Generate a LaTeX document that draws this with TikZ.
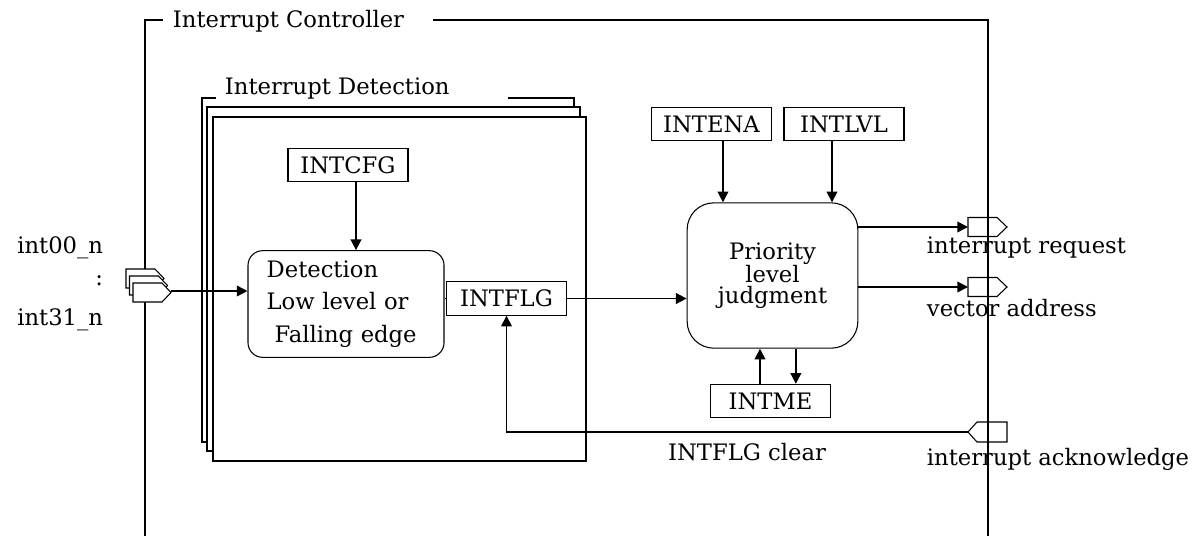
\documentclass[tikz,border=0pt]{standalone}
\usepackage{fontspec}
\setmainfont{DejaVu Serif}
\usetikzlibrary{arrows.meta}

\begin{document}
\begin{tikzpicture}[x=0.75pt,y=0.75pt,yscale=-1,
  font=\fontsize{17}{24.5}\selectfont,
  line width=0.8pt,
  reg/.style={draw, minimum width=90pt, minimum height=25pt, inner sep=2pt},
  blk/.style={draw, rounded corners=11pt},
  sig/.style={line width=1.2pt, -{Triangle[length=8pt,width=8pt]}},
  wire/.style={line width=1.2pt}]
\useasboundingbox (0,0) rectangle (1202,536);

%Frame: Interrupt Controller
\draw (163,20) -- (145,20) -- (145,536);
\draw (433,20) -- (988,20) -- (988,536);
% Text Node
\node (ctl) [anchor=west] at (168,21) {Interrupt Controller};

%Frame: Interrupt Detection (stacked)
\draw (216,98) -- (202,98) -- (202,442) -- (574,442) -- (574,98) -- (508,98);
\draw [fill=white] (207,107) rectangle (580,451);
\draw [fill=white] (213,117) rectangle (586,461);
% Text Node
\node (dtclbl) [anchor=west] at (220,89) {Interrupt Detection};

%Input ports
\foreach \s in {2,1,0}
  \draw [fill=white] (133-3.5*\s,283-7*\s) -- ++(29,0) -- ++(9,9.5) -- ++(-9,9.5) -- ++(-29,0) -- cycle;
\coordinate (in) at (171,291);
% Text Node
\node (i00) [anchor=east] at (108,248) {int00\_n};
\node (idots) [anchor=east] at (108,281) {:};
\node (i31) [anchor=east] at (108,320) {int31\_n};

%Blocks
\node (cfg) [reg] at (348,165) {INTCFG};
\node (dtc) [blk, align=left, text width=119pt, inner xsep=14pt, minimum height=80pt] at (346,304)
  {Detection\\Low level or\\\hspace*{6pt}Falling edge};
\node (flg) [reg] at (506.5,298.5) {INTFLG};
\node (ena) [reg] at (711.5,124) {INTENA};
\node (lvl) [reg] at (844,124) {INTLVL};
\node (pri) [draw, rounded corners=20pt, align=center, minimum width=128pt, minimum height=109pt,
  font=\fontsize{17}{15.5}\selectfont] at (772.5,275.5)
  {Priority\\level\\judgment};
\node (me) [reg] at (770.5,401) {INTME};

%Output ports
\coordinate (req) at (968,227);
\draw (req) ++(0,-9.5) -- ++(29,0) -- ++(10,9.5) -- ++(-10,9.5) -- ++(-29,0) -- cycle;
\coordinate (vec) at (968,287);
\draw (vec) ++(0,-9.5) -- ++(29,0) -- ++(10,9.5) -- ++(-10,9.5) -- ++(-29,0) -- cycle;
\coordinate (ack) at (968,432);
\draw (ack) -- ++(9,-10) -- ++(30,0) -- ++(0,20) -- ++(-30,0) -- cycle;
% Text Node
\node (reqlbl) [anchor=west] at (922,248) {interrupt request};
\node (veclbl) [anchor=west] at (922,308) {vector address};
\node (acklbl) [anchor=west] at (922,459) {interrupt acknowledge};
\node (clr) at (747,452) {INTFLG clear};

%Connectors
\draw [sig] (in) -- (in -| dtc.west);
\draw [sig] ([xshift=6pt]cfg.south) -- ([xshift=6pt]cfg.south |- dtc.north);
\draw [wire] (flg.west) -- (flg.west -| dtc.east);
\draw [sig] (flg.east) -- (flg.east -| pri.west);
\draw [sig] ([xshift=8.6pt]ena.south) -- ([xshift=8.6pt]ena.south |- pri.north);
\draw [sig] ([xshift=-9pt]lvl.south) -- ([xshift=-9pt]lvl.south |- pri.north);
\draw [sig] ([xshift=-7.9pt]me.north) -- ([xshift=-7.9pt]me.north |- pri.south);
\draw [sig] ([xshift=19pt]me.north |- pri.south) -- ([xshift=19pt]me.north);
\draw [sig] (req -| pri.east) -- (req);
\draw [sig] (vec -| pri.east) -- (vec);
\draw [sig] (ack) -| (flg.south);

\end{tikzpicture}
\end{document}
